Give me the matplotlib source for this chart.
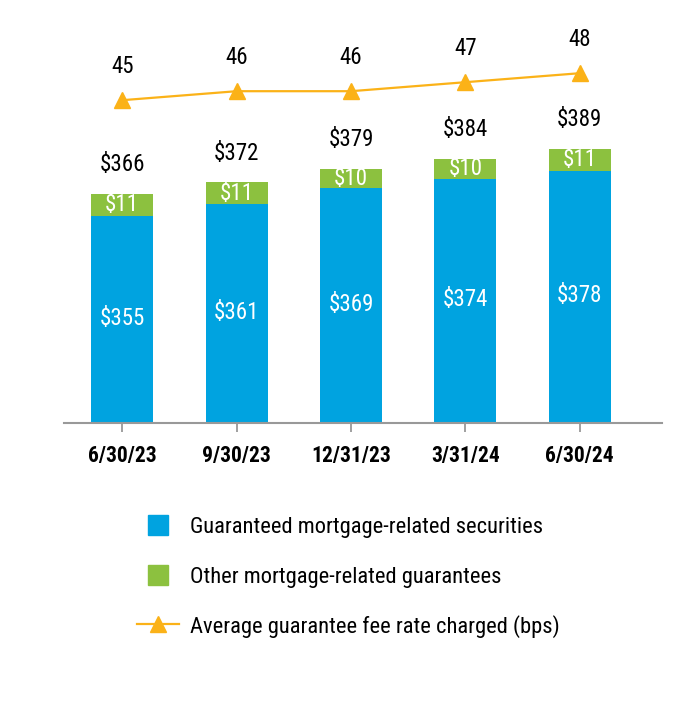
import matplotlib
matplotlib.use("Agg")
import matplotlib.pyplot as plt
from matplotlib.patches import Patch, Rectangle
from matplotlib.lines import Line2D
from matplotlib.legend_handler import HandlerPatch

plt.rcParams['font.family'] = ['Roboto Condensed', 'Liberation Sans Narrow', 'Roboto', 'DejaVu Sans']

dates = ['6/30/23', '9/30/23', '12/31/23', '3/31/24', '6/30/24']
securities = [355, 361, 369, 374, 378]
other = [11, 11, 10, 10, 11]
totals = [366, 372, 379, 384, 389]
fee_bps = [45, 46, 46, 47, 48]

blue = '#00A3E0'
green = '#8CC13F'
orange = '#FBB218'

fig = plt.figure(figsize=(7, 7.2), dpi=100)
ax = fig.add_axes([0.0914, 0.4125, 0.8543, 0.5595])
ax2 = ax.twinx()

x = list(range(len(dates)))
w = 0.54
ax.bar(x, securities, w, bottom=0, color=blue, zorder=2)
ax.bar(x, other, w, bottom=securities, color=green, zorder=2)

for i in x:
    ax.text(i, securities[i] / 2 + 249 / 2 + 0.5, f'${securities[i]}', ha='center', va='center',
            color='white', fontsize=16.5)
    ax.text(i, securities[i] + other[i] / 2, f'${other[i]}', ha='center', va='center',
            color='white', fontsize=16.5)
    ax.text(i, totals[i] + 15, f'${totals[i]}', ha='center', va='center',
            color='black', fontsize=16.5)

ax2.plot(x, fee_bps, color=orange, lw=1.6, marker='^', markersize=11, zorder=3)
for i in x:
    ax2.text(i, fee_bps[i] + 3.7, str(fee_bps[i]), ha='center', va='center',
             color='black', fontsize=16.5)

ax.set_xlim(-0.51, 4.72)
ax.set_ylim(249, 455)
ax2.set_ylim(9.1, 53.9)

for a in (ax, ax2):
    for s in ['top', 'right', 'left']:
        a.spines[s].set_visible(False)
    a.set_yticks([])
ax2.spines['bottom'].set_visible(False)
ax.spines['bottom'].set_color('#999999')
ax.spines['bottom'].set_linewidth(1.5)

ax.set_xticks(x)
ax.set_xticklabels(dates, fontsize=15.5, fontweight='bold')
ax.tick_params(axis='x', length=6.5, width=1.3, color='#999999', pad=9)


def square(legend, orig_handle, xdescent, ydescent, width, height, fontsize):
    size = height
    return Rectangle((-xdescent + (width - size) / 2, -ydescent), size, size)


handles = [
    Patch(color=blue),
    Patch(color=green),
    Line2D([], [], color=orange, lw=1.6, marker='^', markersize=11),
]
labels = [
    'Guaranteed mortgage-related securities',
    'Other mortgage-related guarantees',
    'Average guarantee fee rate charged (bps)',
]
fig.legend(handles, labels, loc='upper left', bbox_to_anchor=(0.167, 0.313),
           frameon=False, fontsize=16.2, handlelength=1.85, handleheight=1.02,
           handletextpad=0.5, labelspacing=1.2,
           handler_map={Patch: HandlerPatch(patch_func=square)})

fig.savefig('out.png', dpi=100)
